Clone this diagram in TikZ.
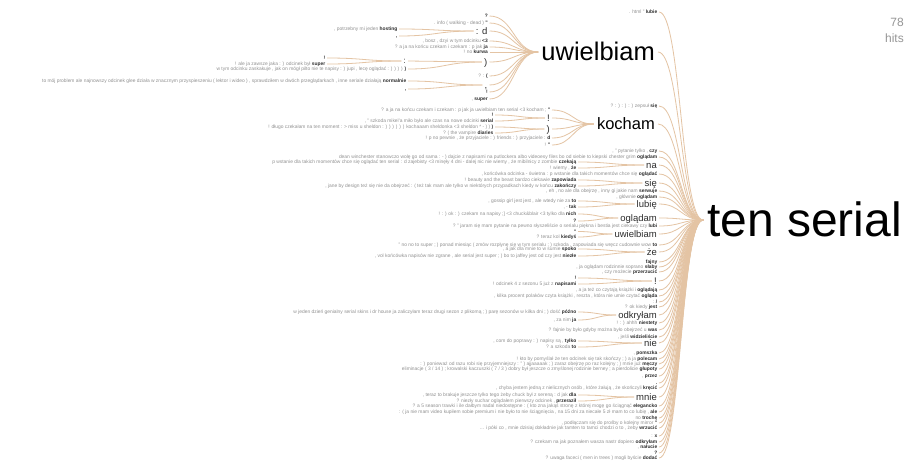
\documentclass[tikz,border=0pt]{standalone}
\usepackage{fontspec}
\setmainfont{Liberation Sans}
\usetikzlibrary{calc}
\definecolor{ctx}{RGB}{145,145,145}
\definecolor{key}{RGB}{45,45,45}
\definecolor{tanc}{RGB}{228,196,164}
\definecolor{hitc}{RGB}{150,150,150}
\tikzset{
 lf/.style={inner xsep=1.5pt, inner ysep=0pt, text height=3.4pt, text depth=0pt, font=\fontsize{4.9}{5}\selectfont},
 mdA/.style={inner xsep=2pt, inner ysep=0pt, text height=6.65pt, text depth=0pt, text=key, font=\fontsize{9.5}{10}\selectfont},
 mdB/.style={inner xsep=2pt, inner ysep=0pt, text height=5.6pt, text depth=0pt, text=key, font=\fontsize{8}{9}\selectfont},
 bigw/.style={inner xsep=3pt, inner ysep=0pt, text depth=0pt, text=black},
 cn/.style={draw=tanc, line width=0.8pt, to path={.. controls ($(\tikztostart)!0.5!(\tikztostart-|\tikztotarget)$) and ($(\tikztotarget)!0.5!(\tikztotarget-|\tikztostart)$) .. (\tikztotarget) \tikztonodes}},
}
\newcommand{\wt}[2]{{\color{ctx}#1} {\color{key}\bfseries #2}}
\newcommand{\leaf}[6]{\node[lf,anchor=east] (#1) at (#2,#3) {\wt{#4}{#5}};\draw[cn] (#1.east) to (#6);}
\newcommand{\solo}[5]{\node[lf,anchor=east] (#1) at (#2,#3) {\color{key}\bfseries #4};\draw[cn] (#1.east) to (#5);}
\newcommand{\midA}[5]{\node[mdA,anchor=east] (#1) at (#2,#3) {#4};\draw[cn] (#1.east) to (#5);}
\newcommand{\midB}[5]{\node[mdB,anchor=east] (#1) at (#2,#3) {#4};\draw[cn] (#1.east) to (#5);}
\begin{document}
\begin{tikzpicture}[x=1pt,y=-1pt]
\useasboundingbox (0,0) rectangle (910,464);
\fill[white] (0,0) rectangle (910,464);
% root
\node[bigw, inner xsep=4pt, text height=33.6pt, font=\fontsize{48}{50}\selectfont, anchor=west] (root) at (703,220) {ten serial};
\node[anchor=east, inner sep=0pt, text=hitc, font=\fontsize{12}{13}\selectfont] (n78) at (904,22) {78};
\node[anchor=east, inner sep=0pt, text=hitc, font=\fontsize{12}{13}\selectfont] (nhits) at (904,38) {hits};
% level 1 big
\node[bigw, text height=17.85pt, font=\fontsize{25.5}{26}\selectfont, anchor=east] (uw) at (658,52) {uwielbiam};
\draw[cn] (uw.east) to (root.west);
\node[bigw, text height=11.55pt, font=\fontsize{16.5}{17}\selectfont, anchor=east] (ko) at (658,124) {kocham};
\draw[cn] (ko.east) to (root.west);
% uwielbiam subtree
\solo{ua}{489.5}{16}{?}{uw.west}
\leaf{ub}{489.5}{23}{. info ( walking - dead )}{"}{uw.west}
\midA{uc}{489.5}{31}{: d}{uw.west}
\leaf{uca}{399}{29}{, potrzebny mi jeden}{hosting}{uc.west}
\solo{ucb}{399}{36}{,}{uc.west}
\leaf{ud}{489.5}{41}{, bosz , dzyi w tym odcinku}{<3}{uw.west}
\leaf{ue}{489.5}{47}{? a ja na końcu czekam i czekam : p jak}{ja}{uw.west}
\leaf{uf}{489.5}{52}{! no}{kurwa}{uw.west}
\midA{ug}{489.5}{62}{)}{uw.west}
\midB{uga}{408}{61}{:}{ug.west}
\solo{ugaa}{327}{58}{!}{uga.west}
\leaf{ugab}{327}{64}{! ale ja zawsze jaka : ) odcinek był}{super}{uga.west}
\leaf{ugb}{408}{69}{w tym odcinku zaskakuje , jak on mógł pilto nie te napisy : ) jupi , lecę oglądać : ) ) ) )}{)}{ug.west}
\leaf{uh}{489.5}{76}{? :}{(}{uw.west}
\midA{ui}{489.5}{85}{,}{uw.west}
\leaf{uia}{408}{81}{to mój problem ale najnowszy odcinek glee działa w znacznym przyspieszeniu ( lektor i wideo ) , sprawdziłem w dwóch przeglądarkach , inne seriale działają}{normalnie}{ui.west}
\solo{uib}{408}{89}{,}{ui.west}
\solo{uj}{489.5}{92}{!}{uw.west}
\leaf{uk}{489.5}{99}{,}{super}{uw.west}
% kocham subtree
\leaf{ka}{552}{110}{? a ja na końcu czekam i czekam : p jak ja uwielbiam ten serial <3 kocham ;}{"}{ko.west}
\midA{kb}{552}{118}{!}{ko.west}
\solo{kba}{495}{115}{!}{kb.west}
\leaf{kbb}{495}{121}{, " szkoda mikel'a miło było ale czas na nowe odcinki}{serial}{kb.west}
\midA{kc}{552}{129}{)}{ko.west}
\leaf{kca}{495}{127}{! długo czekałam na ten moment : > miss u sheldon : ) ) ) ) ) ) kochaaam sheldonka <3 sheldon * - ) )}{)}{kc.west}
\leaf{kcb}{495}{133}{? ( the vampire}{diaries}{kc.west}
\leaf{kd}{552}{138}{! p no pewnie , że przyjaciele : ) friends : ) przyjaciele :}{d}{ko.west}
\leaf{ke}{552}{145}{!}{"}{ko.west}
% level 1 small
\leaf{la}{659}{12}{. html "}{lubie}{root.west}
\leaf{lc}{659}{106}{? : ) : ) : ) zepsuł}{się}{root.west}
\leaf{le}{659}{151}{, " pytanie tylko ,}{czy}{root.west}
\leaf{lf1}{659}{157}{dean winchester stanowczo wolę go od sama : - ) dajcie z napisami na putlockera albo videoesy files bo od siebie to kiepski chester grim}{oglądam}{root.west}
\midA{lg}{659}{165}{na}{root.west}
\leaf{lga}{578}{162}{p wstanie dla takich momentów chce się oglądać ten serial : d zajebisty <3 minęły 4 dni - dalej nic nie wiemy , że mibilnicy z zombie}{czekają}{lg.west}
\leaf{lgb}{578}{168}{! wiemy ,}{że}{lg.west}
\leaf{lh}{659}{174}{, końcówka odcinka - świetna : p wstanie dla takich momentów chce się}{oglądać}{root.west}
\midA{li}{659}{183}{się}{root.west}
\leaf{lia}{578}{180}{! beauty and the beast bardzo ciekawie}{zapowiada}{li.west}
\leaf{lib}{578}{186}{, jane by design też się nie da obejrzeć : ( też tak mam ale tylko w niektórych przypadkach kiedy w końcu}{zakończy}{li.west}
\leaf{lj}{659}{191}{, eh , no ale dla obejrzę , inny gi jakie nam}{serwuje}{root.west}
\leaf{lk}{659}{197}{, głównie}{oglądam}{root.west}
\midA{ll}{659}{204}{lubię}{root.west}
\leaf{lla}{578}{201}{, gossip girl jest jest , ale wtedy nie za}{to}{ll.west}
\leaf{llb}{578}{207}{, -}{tak}{ll.west}
\midA{lm}{659}{218}{oglądam}{root.west}
\leaf{lma}{578}{214}{! : ) ok : ) czekam na napisy ;] <3 chuck\&blair <3 tylko dla}{nich}{lm.west}
\solo{lmb}{578}{221}{?}{lm.west}
\leaf{ln}{659}{226}{? " jaram się mam pytanie na pewno słyszeliście o serialu piękna i bestia jest ciekawy czy}{lubi}{root.west}
\midA{lo}{659}{234}{uwielbiam}{root.west}
\solo{loa}{578}{231.5}{"}{lo.west}
\leaf{lob}{578}{237}{? teraz kol}{kiedyś}{lo.west}
\leaf{lp}{659}{245}{" no no to super ; ) ponad miesiąc ( zmów rozpłynę się w tym serialu ; ) szkoda , zapowiada się wręcz cudownie wow}{to}{root.west}
\midA{lq}{659}{252}{że}{root.west}
\leaf{lqa}{578}{249}{, a jak dla mnie to w sumie}{spoko}{lq.west}
\leaf{lqb}{578}{256}{, vol końcówka napisów nie zgrane , ale serial jest super ; ) bo to jaffey jest od czy jest}{niezłe}{lq.west}
\solo{lr}{659}{262}{fajny}{root.west}
\leaf{ls}{659}{267}{, ja oglądam rodzinnie soprano}{słaby}{root.west}
\leaf{lt}{659}{272}{, czy możecie}{przerzucić}{root.west}
\midA{lu}{659}{281}{!}{root.west}
\solo{lua}{578}{278}{!}{lu.west}
\leaf{lub}{578}{284}{! odcinek 4 z sezonu 5 już z}{napisami}{lu.west}
\leaf{lv}{659}{290}{, a ja też co czytają książki i}{oglądają}{root.west}
\leaf{lw}{659}{296}{, kilka procent polaków czyta książki , reszta , która nie umie czytać}{ogląda}{root.west}
\leaf{lx}{659}{302}{:}{/}{root.west}
\leaf{ly}{659}{307}{? ok kiedy}{jest}{root.west}
\midA{lz}{659}{315}{odkryłam}{root.west}
\leaf{lza}{578}{312}{w jeden dzień genialny serial skins i dr house ja zaliczyłam teraz drugi sezon z plikomą ; ) parę sezonów w kilka dni ; ) dość}{późno}{lz.west}
\leaf{lzb}{578}{320}{, za nim}{ja}{lz.west}
\leaf{ma}{659}{323}{! : ) ahhh}{niestety}{root.west}
\leaf{mb}{659}{330}{? fajnie by było gdyby można było obejrzeć u}{was}{root.west}
\leaf{mc}{659}{337}{, jeśli}{widzieliście}{root.west}
\midA{md}{659}{343}{nie}{root.west}
\leaf{mda}{578}{341}{, com do poprawy : ) napisy są ,}{tylko}{md.west}
\leaf{mdb}{578}{347}{? a szkoda}{to}{md.west}
\leaf{me}{659}{353}{,}{pomszka}{root.west}
\leaf{mf}{659}{359}{! kto by pomyślał że ten odcinek się tak skończy ; ) a ja}{polecam}{root.west}
\leaf{mg}{659}{364}{: ) ponieważ od razu robi się przyjemniejszy : " ) ajjaaaaak ; ) zaraz obejrzę po raz kolejny ; ) mnie już}{męczy}{root.west}
\leaf{mh}{659}{369}{eliminacje ( 3 / 14 ) ; krowalski kaczuszki ( 7 / 3 ) dobry był jeszcze o zmyślonej rodzinie berney ; a pierdolicie}{głupoty}{root.west}
\leaf{mi}{659}{376}{,}{przez}{root.west}
\solo{mj}{659}{383}{.}{root.west}
\leaf{mk}{659}{388}{, chyba jestem jedną z nielicznych osób , które żałują , że skończyli}{kręcić}{root.west}
\midA{ml}{659}{397}{mnie}{root.west}
\leaf{mla}{578}{395}{, teraz to brakuje jeszcze tylko tego żeby chuck był z sereną : d jak}{dla}{ml.west}
\leaf{mlb}{578}{401}{? niezły suchar oglądałem pierwszy odcinek ,}{przeraził}{ml.west}
\leaf{mm}{659}{406}{? a 5 season trawki i ile dałbym nadal niedostępne : ( kto zna jakąś stronę z której mogę go ściągnąć}{elegancko}{root.west}
\leaf{mn}{659}{412}{: ( ja nie mam video kupiłem sobie premium i nie było to nie ściągnięcia , na 15 dni za niecałe 5 zł mam to co lubię ,}{ale}{root.west}
\leaf{mo}{659}{418}{no}{trochę}{root.west}
\leaf{mp}{659}{423}{, podłączam się do prośby o kolejny mirror}{"}{root.west}
\leaf{mq}{659}{428}{... i póki co , mnie dzisiaj dokładnie jak tamten to tamci chodzi o to , żeby}{wrzucić}{root.west}
\leaf{mr}{659}{436}{:}{x}{root.west}
\leaf{ms}{659}{442}{? czekam na jak poznałem wasza nastr dopiero}{odkryłam}{root.west}
\leaf{mt}{659}{447}{,}{nałucie}{root.west}
\solo{mu}{659}{453}{?}{root.west}
\leaf{mv}{659}{458}{? uwaga faceci ( men in trees ) mogli byście}{dodać}{root.west}
\end{tikzpicture}
\end{document}
